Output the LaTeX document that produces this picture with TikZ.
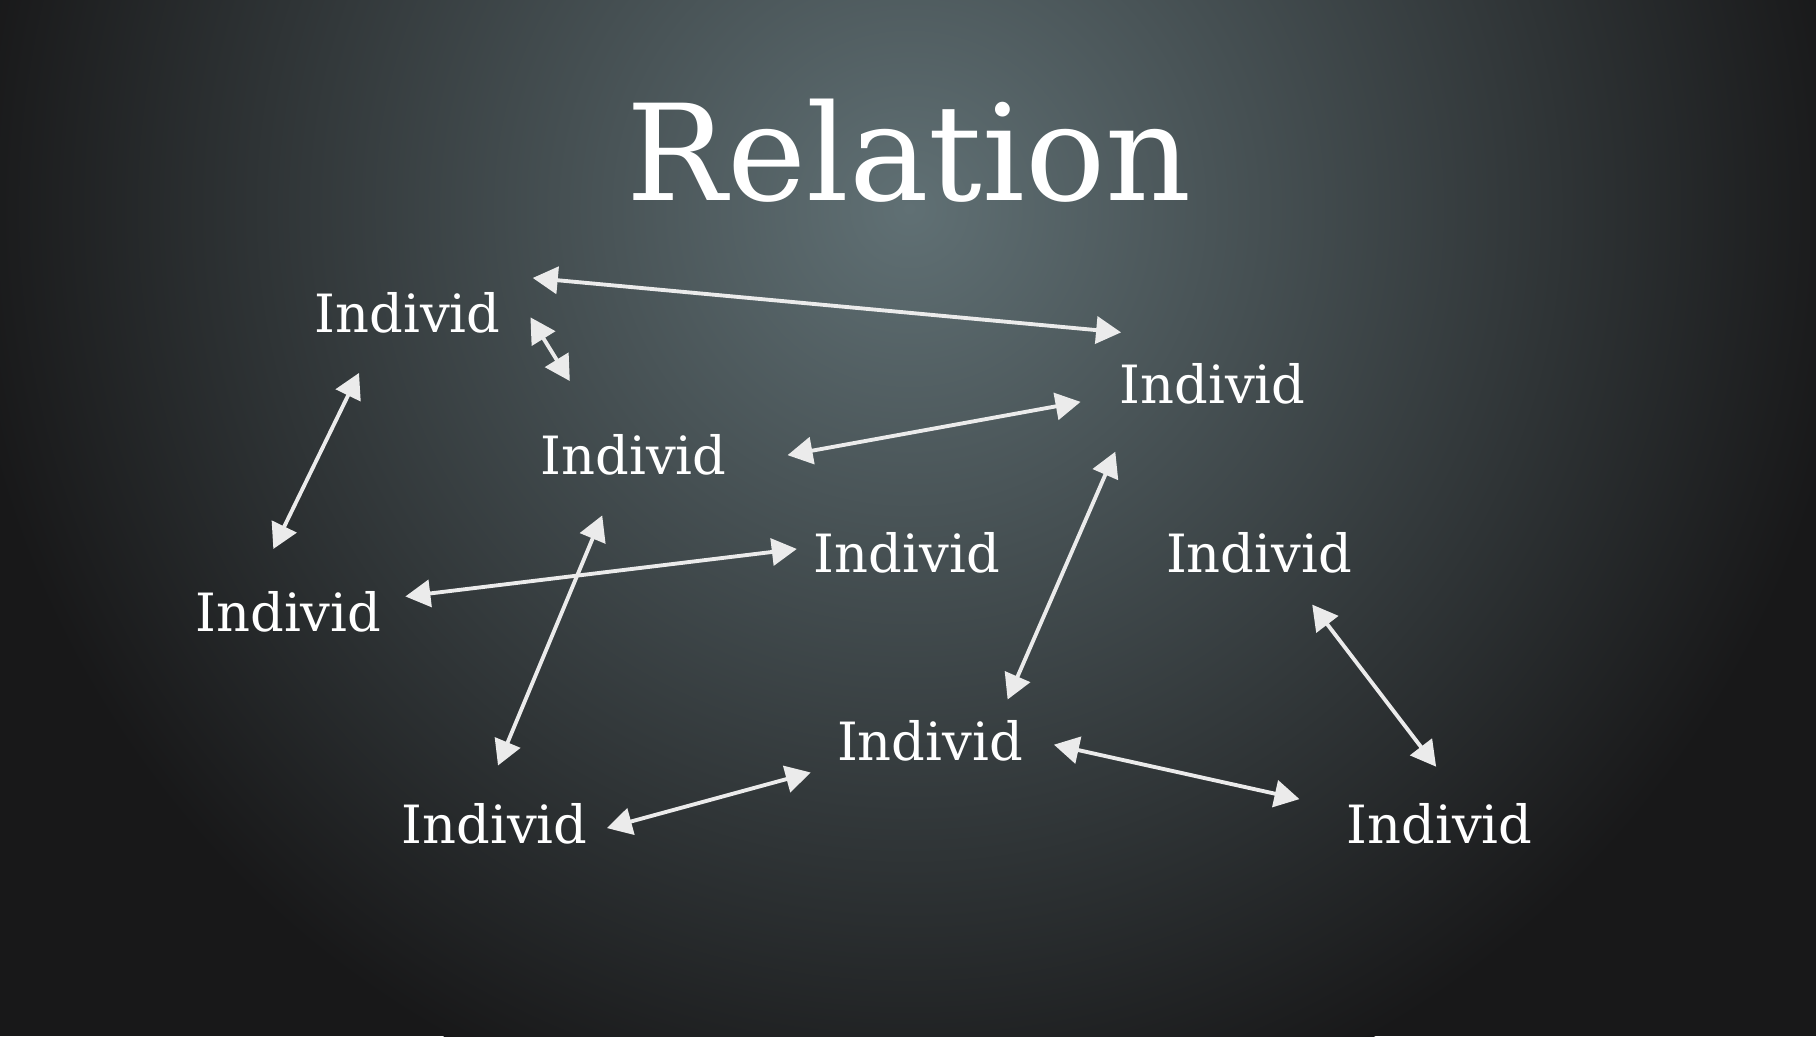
\documentclass[tikz,border=0pt]{standalone}
\usepackage{fontspec}
\setmainfont{DejaVu Serif}
\usetikzlibrary{arrows.meta}
\definecolor{bgc}{RGB}{96,112,116}
\definecolor{bgo}{RGB}{24,24,25}
\begin{document}
\begin{tikzpicture}[x=0.01158cm,y=-0.01158cm,
  lab/.style={text=white,font=\fontsize{15}{17}\selectfont,inner sep=0pt},
  rel/.style={draw=white!92!black,line width=1.1pt,{Triangle[length=0.25cm,width=0.27cm]}-{Triangle[length=0.25cm,width=0.27cm]}}]
\useasboundingbox (0,0) rectangle (1568,894.6);
\fill[bgo] (0,0) rectangle (1568,894.6);
\begin{scope}
\clip (0,0) rectangle (1568,894.6);
\shade[inner color=bgc,outer color=bgo] (785,180) circle (820);
\end{scope}
\node[text=white,font=\fontsize{38}{42}\selectfont,inner sep=0pt] (title) at (785,130) {Relation};
\node[lab] (n1) at (352,270) {Individ};
\node[lab] (n2) at (1047,331) {Individ};
\node[lab] (n3) at (547,393) {Individ};
\node[lab] (n4) at (783,477) {Individ};
\node[lab] (n5) at (1087,477) {Individ};
\node[lab] (n6) at (249,528) {Individ};
\node[lab] (n7) at (803,640) {Individ};
\node[lab] (n8) at (427,711) {Individ};
\node[lab] (n9) at (1243,711) {Individ};
\coordinate (a1) at (460,240); \coordinate (a2) at (968,287);
\coordinate (b1) at (458,274); \coordinate (b2) at (492,329);
\coordinate (c1) at (310,322); \coordinate (c2) at (236,474);
\coordinate (d1) at (680,393); \coordinate (d2) at (933,347);
\coordinate (e1) at (350,515); \coordinate (e2) at (688,474);
\coordinate (f1) at (520,445); \coordinate (f2) at (430,661);
\coordinate (g1) at (963,390); \coordinate (g2) at (870,604);
\coordinate (h1) at (1133,522); \coordinate (h2) at (1240,662);
\coordinate (i1) at (910,643); \coordinate (i2) at (1122,690);
\coordinate (j1) at (524,715); \coordinate (j2) at (700,667);
\foreach \k in {a,b,c,d,e,f,g,h,i,j} \draw[rel] (\k1) -- (\k2);
\end{tikzpicture}
\end{document}
